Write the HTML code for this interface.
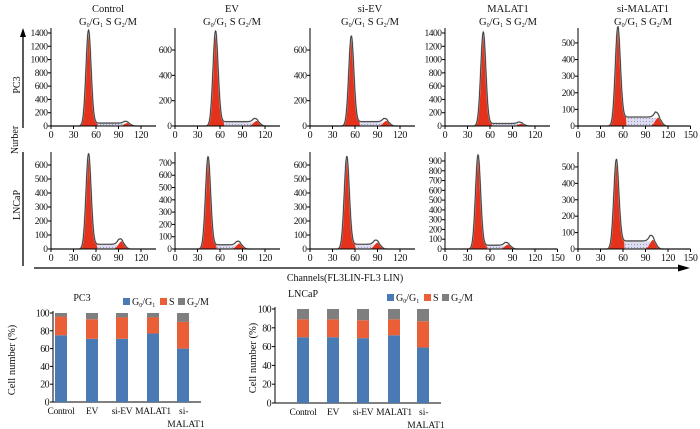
<!DOCTYPE html>
<html><head><meta charset="utf-8"><style>
html,body{margin:0;padding:0;background:#fff;}
svg{display:block;font-family:"Liberation Serif",serif;}
</style></head><body>
<svg id="fig" width="700" height="429" viewBox="0 0 700 429">
<defs>
<pattern id="hatch" width="3" height="3" patternUnits="userSpaceOnUse">
<rect width="3" height="3" fill="#dedef0"/><circle cx="1.5" cy="1.5" r="0.6" fill="#9a9ac4"/>
</pattern>
</defs>
</svg>
<script>
// ---- histogram data ----
const conditions = ["Control","EV","si-EV","MALAT1","si-MALAT1"];
const rowLabels = ["PC3","LNCaP"];
// row 0 = PC3, row 1 = LNCaP
const g1Pos   = [[50,54,55,51,53],[50,44,49,44,51]];
const g1Height= [[1430,740,700,1400,580],[670,740,650,950,530]];
const sHeight = [[40,30,30,35,50],[30,30,30,35,45]];
const g2Pos   = [[100,107,100,100,105],[92,84,88,82,98]];
const g2Height= [[45,40,40,35,50],[55,45,45,45,55]];
const yMaxes  = [[1475,774,774,1475,590],[693,789,693,992,591]];
const yTickMax= [[1400,600,600,1400,500],[600,700,600,900,500]];
const yTickStep=[[200,200,200,200,100],[100,100,100,100,100]];
const xMaxes  = [[140,140,140,140,150],[140,140,140,150,150]];
const xTickMax= [[120,120,120,120,150],[120,120,120,150,150]];
// ---- bar chart data ----
const barCats = ["Control","EV","si-EV","MALAT1","si-MALAT1"];
const pc3G1 = [75,71,71,77,60];
const pc3S  = [21,22,24,18,30];
const lncG1 = [70,70,69,72,59];
const lncS  = [19,19,19,17,28];

const NS="http://www.w3.org/2000/svg";
const svg=document.getElementById('fig');
function mk(tag,attrs,parent){const e=document.createElementNS(NS,tag);for(const k in attrs)e.setAttribute(k,attrs[k]);(parent||svg).appendChild(e);return e;}
function txt(x,y,s,size,anchor,parent,extra){const t=mk('text',Object.assign({x:x,y:y,'font-size':size,'text-anchor':anchor||'middle',fill:'#111'},extra||{}),parent);t.textContent=s;return t;}

const colX=[51,175,310,445,578];
const rowBottom=[126,249], rowTop=[28,152];
const pxPerUnit=0.75;
const titleX=[108,232,370,508,643];

for(let r=0;r<2;r++){
 for(let c=0;c<5;c++){
  const g=mk('g',{});
  
  
  const x0=colX[c], yb=rowBottom[r], yt=rowTop[r];
  const ymax=yMaxes[r][c];
  const X=v=>x0+v*pxPerUnit;
  const Y=v=>yb-(v/ymax)*(yb-yt);
  const gp=g1Pos[r][c], gh=g1Height[r][c], sh=sHeight[r][c], g2=g2Pos[r][c], g2h=g2Height[r][c];
  const sd=3.4, sd2=4;
  const red1=x=>gh*Math.exp(-((x-gp)**2)/(2*sd*sd));
  const sfun=x=>{ if(x<gp-3||x>g2+4) return 0; let v=sh; if(x<gp+6) v=sh*(x-gp+3)/9; if(x>g2-2) v=sh*(g2+4-x)/6; return Math.max(0,v);};
  const red2=x=>g2h*Math.exp(-((x-g2-2)**2)/(2*sd2*sd2));
  const xs=[]; for(let x=0;x<=xMaxes[r][c];x+=0.5) xs.push(x);
  const area=(f)=>{let d='M'+X(0)+','+Y(0);xs.forEach(x=>{d+='L'+X(x).toFixed(2)+','+Y(f(x)).toFixed(2);});d+='L'+X(xs[xs.length-1])+','+Y(0)+'Z';return d;};
  const sPath=mk('path',{d:area(sfun),fill:'url(#hatch)',stroke:'none'},g);
  
  
  const r1=mk('path',{d:area(x=>red1(x)>3?red1(x)+sfun(x):red1(x)),fill:'#e5321c',stroke:'none'},g);
  
  
  const r2=mk('path',{d:area(red2),fill:'#e5321c',stroke:'none'},g);
  
  
  let d='';xs.forEach((x,i)=>{const v=red1(x)+sfun(x)+red2(x)+(x>gp&&x<g2+4?4:0);d+=(i?'L':'M')+X(x).toFixed(2)+','+Y(v).toFixed(2);});
  mk('path',{d:d,fill:'none',stroke:'#aaa',"stroke-width":1.6},g);
  const env=mk('path',{d:d,fill:'none',stroke:'#333',"stroke-width":0.8},g);
  
  
  // axes
  mk('line',{x1:x0,y1:yt,x2:x0,y2:yb,stroke:'#000','stroke-width':1},g);
  mk('line',{x1:x0,y1:yb,x2:X(xMaxes[r][c]),y2:yb,stroke:'#000','stroke-width':1},g);
  for(let v=0;v<=yTickMax[r][c];v+=yTickStep[r][c]){
    mk('line',{x1:x0-3,y1:Y(v),x2:x0,y2:Y(v),stroke:'#000'},g);
    txt(x0-3.5,Y(v)+3,String(v),9.5,'end',g,{'letter-spacing':'-0.5'});
  }
  for(let v=0;v<=xTickMax[r][c];v+=30){
    mk('line',{x1:X(v),y1:yb,x2:X(v),y2:yb+3,stroke:'#000'},g);
    txt(X(v),yb+12,String(v),10,'middle',g,{'letter-spacing':'-0.3'});
  }
  if(r===0){
    const t=txt(titleX[c],12,conditions[c],10.5,'middle',g);
    
    
    const p=mk('text',{x:titleX[c],y:25,'font-size':10.5,'text-anchor':'middle',fill:'#111'},g);
    p.innerHTML='G<tspan font-size="6" dy="2">0</tspan><tspan dy="-2">/G</tspan><tspan font-size="6" dy="2">1</tspan><tspan dy="-2">  S  G</tspan><tspan font-size="6" dy="2">2</tspan><tspan dy="-2">/M</tspan>';
    
    
  }
 }
}
// row labels and big axes
const pl=txt(20,85,'PC3',10,'middle',svg,{transform:'rotate(-90 20 85)'});

const ll=txt(20,205,'LNCaP',10,'middle',svg,{transform:'rotate(-90 20 205)'});

const nl=txt(18,140,'Nurber',10,'middle',svg,{transform:'rotate(-90 18 140)'});

mk('line',{x1:23,y1:36,x2:23,y2:128,stroke:'#000','stroke-width':1.3});
mk('line',{x1:23,y1:152,x2:23,y2:266,stroke:'#000','stroke-width':1.3});
mk('path',{d:'M23,28L20,37L26,37Z',fill:'#000'});
mk('line',{x1:34,y1:268,x2:680,y2:268,stroke:'#000','stroke-width':1.3});
mk('path',{d:'M690,268L678,264.5L678,271.5Z',fill:'#000'});
const xt=txt(345,281,'Channels(FL3LIN-FL3 LIN)',10,'middle');


// ---- bar charts ----
function barChart(name,title,axX,y0,y100,centers,g1,s,titleX,legX,legY){
 const g=mk('g',{});
 
 
 const Y=v=>y0-(v/100)*(y0-y100);
 mk('line',{x1:axX,y1:y100-2,x2:axX,y2:y0,stroke:'#000'},g);
 mk('line',{x1:axX,y1:y0,x2:centers[centers.length-1]+18,y2:y0,stroke:'#000'},g);
 for(let v=0;v<=100;v+=20){mk('line',{x1:axX-3,y1:Y(v),x2:axX,y2:Y(v),stroke:'#000'},g);txt(axX-4,Y(v)+3.5,String(v),10,'end',g,{'letter-spacing':'-0.6'});}
 barCats.forEach((cat,i)=>{
  const cx=centers[i],w=12;
  const b1=mk('rect',{x:cx-w/2,y:Y(g1[i]),width:w,height:Y(0)-Y(g1[i]),fill:'#4a7ab4'},g);
  
  const b2=mk('rect',{x:cx-w/2,y:Y(g1[i]+s[i]),width:w,height:Y(g1[i])-Y(g1[i]+s[i]),fill:'#ea5f37'},g);
  
  const b3=mk('rect',{x:cx-w/2,y:Y(100),width:w,height:Y(g1[i]+s[i])-Y(100),fill:'#7f7f7f'},g);
  
  if(cat==='si-MALAT1'){txt(cx-4,y0+12,'si-',9.5,'start',g);txt(cx+3,y0+25,'MALAT1',9.5,'middle',g);}
  else txt(cx,y0+12,cat,9.5,'middle',g,{'letter-spacing':'-0.3'});
 });
 txt(titleX,y100-12,title,10,'middle',g);
 const lg=mk('g',{},g);
 
 mk('rect',{x:legX,y:legY-7,width:7,height:7,fill:'#4a7ab4'},lg);
 const t1=mk('text',{x:legX+9,y:legY,'font-size':10,fill:'#111'},lg);
 t1.innerHTML='G<tspan font-size="6" dy="2">0</tspan><tspan dy="-2">/G</tspan><tspan font-size="6" dy="2">1</tspan>';
 mk('rect',{x:legX+37,y:legY-7,width:7,height:7,fill:'#ea5f37'},lg);
 txt(legX+46,legY,'S',10,'start',lg);
 mk('rect',{x:legX+55,y:legY-7,width:7,height:7,fill:'#7f7f7f'},lg);
 const t3=mk('text',{x:legX+64,y:legY,'font-size':10,fill:'#111'},lg);
 t3.innerHTML='G<tspan font-size="6" dy="2">2</tspan><tspan dy="-2">/M</tspan>';
}
barChart('pc3-bar-chart','PC3',53,402,313,[61,92,122,153,183],pc3G1,pc3S,82,123,305);
barChart('lncap-bar-chart','LNCaP',275,403,309,[303,333,363,394,423],lncG1,lncS,303,387,301);
const c1=txt(15,360,'Cell number (%)',10.5,'middle',svg,{transform:'rotate(-90 15 360)'});

const c2=txt(256,358,'Cell number (%)',10.5,'middle',svg,{transform:'rotate(-90 256 358)'});

</script>
</body></html>
